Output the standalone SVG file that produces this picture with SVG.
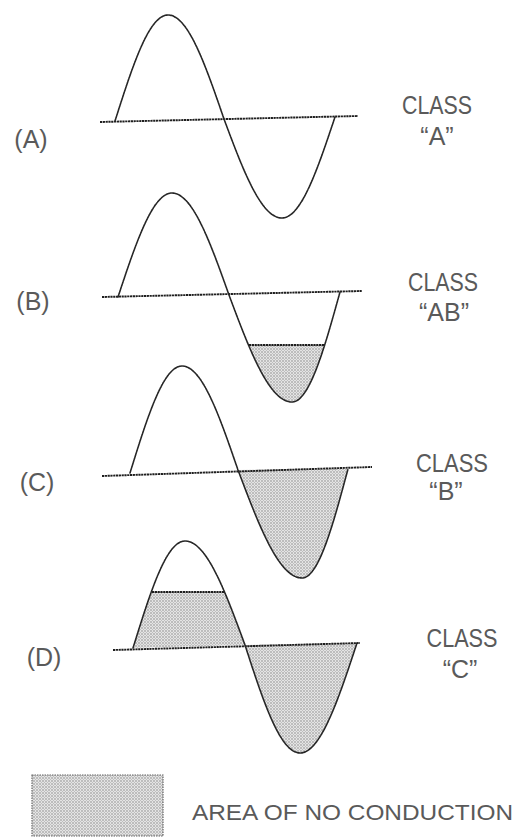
<svg xmlns="http://www.w3.org/2000/svg" width="517" height="838" viewBox="0 0 517 838">
<style>
  .wave { fill: none; stroke: #262626; stroke-width: 1.6; stroke-linejoin: round; stroke-linecap: round; stroke-dasharray: 2 0.8; }
  .axis { fill: none; stroke: #1e1e1e; stroke-width: 1.9; stroke-dasharray: 2.2 0.6; }
  .shade { fill: url(#dots); stroke: none; }
  .lbl { font-family: "Liberation Sans", "DejaVu Sans", sans-serif; font-size: 25px; fill: #5a5a5a; text-anchor: middle; }
  .cls { font-family: "Liberation Sans", "DejaVu Sans", sans-serif; font-size: 25px; fill: #5a5a5a; text-anchor: middle; }
  .legend-text { font-family: "Liberation Sans", "DejaVu Sans", sans-serif; font-size: 22px; fill: #5a5a5a; }
</style>
<defs>
  <pattern id="dots" width="3" height="3" patternUnits="userSpaceOnUse">
    <rect width="3" height="3" fill="#e4e4e4"/>
    <circle cx="1" cy="1" r="0.8" fill="#8c8c8c"/>
    <circle cx="2.5" cy="2.5" r="0.5" fill="#b0b0b0"/>
  </pattern>
  <clipPath id="clipB"><rect x="0" y="345" width="517" height="100"/></clipPath>
  <clipPath id="clipD"><rect x="0" y="592" width="517" height="60"/></clipPath>
</defs>
<rect width="517" height="838" fill="#ffffff"/>

<!-- Panel A -->
<g id="panel-a">
  <line class="axis" x1="100" y1="122" x2="358" y2="116"/>
  <path class="wave" d="M115,121 C132.3,66.7 148.8,15 168,15 C188.3,15 205.7,65.8 224,119 C242.9,169.7 261,218 282,218 C301.2,218 317.7,168.7 335,117"/>
  <text class="lbl" x="31" y="148">(A)</text>
  <text class="cls" x="437" y="114" textLength="70" lengthAdjust="spacingAndGlyphs">CLASS</text>
  <text class="cls" x="437" y="145">“A”</text>
</g>

<!-- Panel B -->
<g id="panel-b">
  <path class="shade" clip-path="url(#clipB)" d="M229,295 C249.5,349.8 269.2,402 292,402 C309.4,402 324.4,348.3 340,292 Z"/>
  <line class="axis" x1="102" y1="297" x2="362" y2="291"/>
  <line class="axis" x1="249" y1="345" x2="325" y2="345"/>
  <path class="wave" d="M118,297 C135.6,243.8 152.5,193 172,193 C192.6,193 210.4,242.8 229,295 C249.5,349.8 269.2,402 292,402 C309.4,402 324.4,348.3 340,292"/>
  <text class="lbl" x="33" y="310">(B)</text>
  <text class="cls" x="443" y="291" textLength="70" lengthAdjust="spacingAndGlyphs">CLASS</text>
  <text class="cls" x="444" y="321">“AB”</text>
</g>

<!-- Panel C -->
<g id="panel-c">
  <path class="shade" d="M238,470 C258.9,525.3 278.8,578 302,578 C318.7,578 333,524.8 348,469 Z"/>
  <line class="axis" x1="102" y1="476" x2="372" y2="467"/>
  <path class="wave" d="M130,473 C147,418.2 163.2,366 182,366 C202.3,366 219.7,416.8 238,470 C258.9,525.3 278.8,578 302,578 C318.7,578 333,524.8 348,469"/>
  <text class="lbl" x="37" y="491">(C)</text>
  <text class="cls" x="452" y="472" textLength="72" lengthAdjust="spacingAndGlyphs">CLASS</text>
  <text class="cls" x="446" y="500">“B”</text>
</g>

<!-- Panel D -->
<g id="panel-d">
  <path class="shade" clip-path="url(#clipD)" d="M133,648 C150,593.2 166.2,541 185,541 C206.7,541 225.4,591.8 245,645 Z"/>
  <path class="shade" d="M245,645 C262.9,700.3 280.1,753 300,753 C320.6,753 338.4,699.3 357,643 Z"/>
  <line class="axis" x1="113" y1="650" x2="360" y2="643"/>
  <line class="axis" x1="152" y1="592" x2="224" y2="592"/>
  <path class="wave" d="M133,648 C150,593.2 166.2,541 185,541 C206.7,541 225.4,591.8 245,645 C262.9,700.3 280.1,753 300,753 C320.6,753 338.4,699.3 357,643"/>
  <text class="lbl" x="44" y="666">(D)</text>
  <text class="cls" x="462" y="647" textLength="71" lengthAdjust="spacingAndGlyphs">CLASS</text>
  <text class="cls" x="460" y="678">“C”</text>
</g>

<!-- Legend -->
<g id="legend">
  <rect x="32" y="775" width="131" height="61" fill="url(#dots)" stroke="#666" stroke-width="1.2" stroke-dasharray="1.5 1"/>
  <text class="legend-text" x="192" y="820" textLength="321" lengthAdjust="spacingAndGlyphs">AREA OF NO CONDUCTION</text>
</g>
</svg>
